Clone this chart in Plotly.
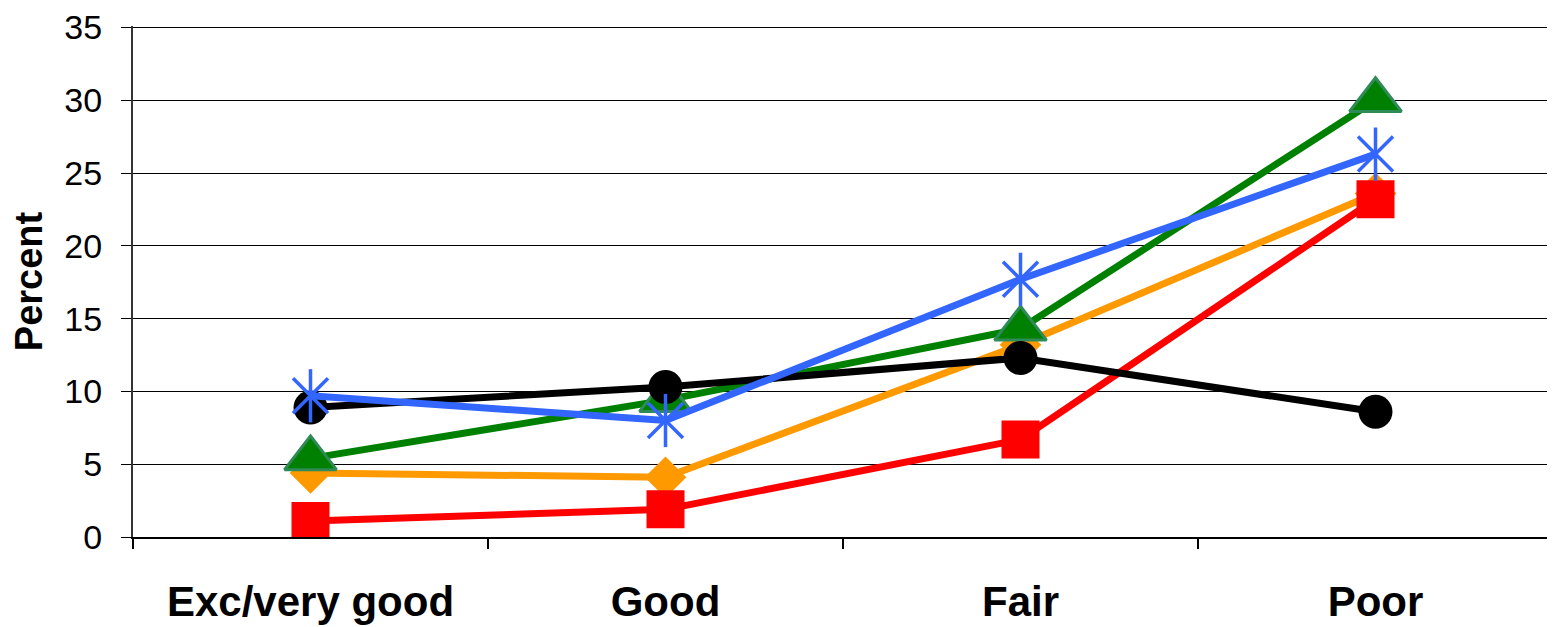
import plotly.graph_objects as go

categories = ["Exc/very good", "Good", "Fair", "Poor"]
black_vals = [8.9, 10.3, 12.3, 8.6]
green_vals = [5.4, 9.4, 14.3, 30.0]
blue_vals = [9.7, 8.0, 17.7, 26.3]
orange_vals = [4.4, 4.1, 13.2, 23.6]
red_vals = [1.1, 1.9, 6.7, 23.2]
y_ticks = [0, 5, 10, 15, 20, 25, 30, 35]

FONT = "Liberation Sans, Arial, sans-serif"
LW = 7

fig = go.Figure()
fig.add_trace(go.Scatter(x=categories, y=orange_vals, mode="lines+markers",
                         line=dict(color="#FF9900", width=LW),
                         marker=dict(symbol="diamond", size=32, color="#FF9900")))
fig.add_trace(go.Scatter(x=categories, y=red_vals, mode="lines+markers",
                         line=dict(color="#FF0000", width=LW),
                         marker=dict(symbol="square", size=38, color="#FF0000")))
fig.add_trace(go.Scatter(x=categories, y=green_vals, mode="lines+markers",
                         line=dict(color="#008000", width=LW),
                         marker=dict(symbol="triangle-up", size=45, color="#008000",
                                     line=dict(color="#2E8B57", width=3))))
fig.add_trace(go.Scatter(x=categories, y=black_vals, mode="lines+markers",
                         line=dict(color="#000000", width=LW),
                         marker=dict(symbol="circle", size=34, color="#000000")))
fig.add_trace(go.Scatter(x=categories, y=blue_vals, mode="lines+markers",
                         line=dict(color="#3366FF", width=LW),
                         marker=dict(symbol="x-thin-open", size=35, color="#3366FF",
                                     line=dict(color="#3366FF", width=3.5))))
fig.add_trace(go.Scatter(x=categories, y=blue_vals, mode="markers",
                         marker=dict(symbol="line-ns-open", size=38, color="#3366FF",
                                     line=dict(color="#3366FF", width=3.5))))

fig.update_layout(
    width=1547, height=619,
    margin=dict(l=125, r=2, t=18, b=90, autoexpand=False),
    paper_bgcolor="white", plot_bgcolor="white",
    showlegend=False,
    font=dict(family=FONT, color="black"),
    xaxis=dict(
        type="category",
        tickson="boundaries",
        ticks="outside", ticklen=10, tickwidth=1.5, tickcolor="black",
        showline=True, linecolor="black", linewidth=1.5,
        showgrid=False,
        tickfont=dict(size=42, family=FONT, color="black", weight="bold"),
        ticklabelstandoff=27,
        range=[-0.5, 3.5],
        automargin=False,
    ),
    yaxis=dict(
        range=[0, 35.1],
        tickvals=y_ticks,
        ticks="outside", ticklen=10, tickwidth=1.2, tickcolor="black",
        showline=True, linecolor="#333333", linewidth=2,
        showgrid=True, gridcolor="black", gridwidth=1,
        zeroline=False,
        tickfont=dict(size=34, family=FONT, color="black"),
        ticklabelstandoff=12,
        automargin=False,
        title=dict(text="Percent", font=dict(size=38, family=FONT, color="black", weight="bold"),
                   standoff=18),
    ),
)

fig.write_html("out.html")
